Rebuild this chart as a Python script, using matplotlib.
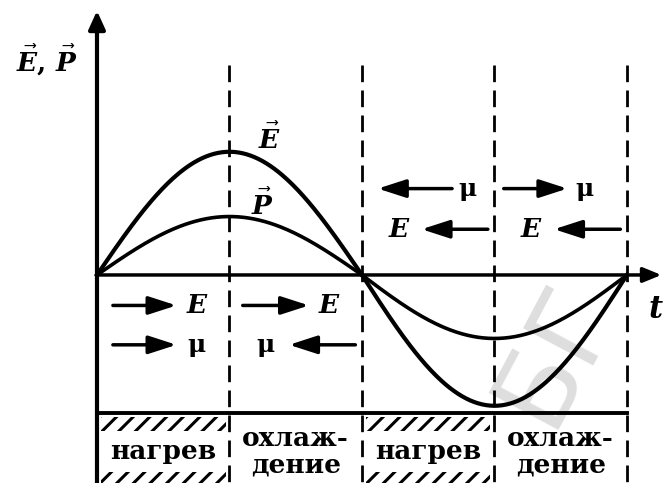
import numpy as np
import matplotlib.pyplot as plt
from matplotlib.patches import Rectangle

plt.rcParams['mathtext.fontset'] = 'custom'
plt.rcParams['mathtext.bf'] = 'DejaVu Serif:italic:bold'
plt.rcParams['mathtext.it'] = 'DejaVu Serif:italic:bold'
plt.rcParams['hatch.linewidth'] = 2.2

# данные: амплитуды (в долях амплитуды E), границы фаз в четвертях периода
E_peak, E_trough = 0.97, -1.03
P_peak, P_trough = 0.46, -0.50
boundaries = [1, 2, 3, 4]
phases = ['нагрев', 'охлаж-\nдение', 'нагрев', 'охлаж-\nдение']
heating = [0, 2]

# стрелки-пояснения: (x начала, x конца, y, x подписи)
arrows_E = [(0.12, 0.6, -0.24, 0.75), (1.1, 1.6, -0.24, 1.75),
            (2.95, 2.45, 0.36, 2.28), (3.95, 3.45, 0.36, 3.27)]
arrows_mu = [(0.12, 0.6, -0.55, 0.75), (1.95, 1.45, -0.55, 1.27),
             (2.68, 2.12, 0.68, 2.8), (3.07, 3.55, 0.68, 3.68)]

t = np.linspace(0, 2, 200)
shape = np.sin(np.pi * t / 2)
t2 = np.linspace(2, 4, 200)
shape2 = -np.sin(np.pi * (t2 - 2) / 2)

fig = plt.figure(figsize=(6.63, 4.83), dpi=100)
ax = fig.add_axes([0, 0, 1, 1])
ax.set_xlim(-0.732, 4.272)
ax.set_ylim(-1.638, 2.165)
ax.axis('off')

# водяной знак
ax.text(3.45, -0.62, 'БГ', fontsize=78, color='#dedede', rotation=62,
        ha='center', va='center', family='DejaVu Sans', zorder=0)

# кривые
ax.plot(t, E_peak * shape, color='black', lw=3)
ax.plot(t2, -E_trough * shape2, color='black', lw=3)
ax.plot(t, P_peak * shape, color='black', lw=2.6)
ax.plot(t2, -P_trough * shape2, color='black', lw=2.6)

# оси
ax.annotate('', xy=(0, 2.08), xytext=(0, -1.64),
            arrowprops=dict(arrowstyle='-|>,head_length=1.1,head_width=0.5',
                            color='black', lw=3, shrinkA=0, shrinkB=0))
ax.annotate('', xy=(4.26, 0), xytext=(0, 0),
            arrowprops=dict(arrowstyle='-|>,head_length=1.1,head_width=0.45',
                            color='black', lw=2.5, shrinkA=0, shrinkB=0))
ax.plot([0, 4], [-1.087, -1.087], color='black', lw=2.8)

# пунктирные границы
for b in boundaries:
    ax.plot([b, b], [1.65, -1.64], color='black', lw=2, ls=(0, (6, 3)))

# штриховка «нагрев»
for i in heating:
    for y0, h in [(-1.225, 0.11), (-1.64, 0.09)]:
        ax.add_patch(Rectangle((i + 0.03, y0), 0.94, h, fill=False,
                               hatch='//', lw=0, color='black'))

for i, ph in enumerate(phases):
    ax.text(i + 0.5, -1.39, ph, ha='center', va='center', fontsize=19,
            family='DejaVu Serif', weight='bold', linespacing=1.05)

# подписи
ax.text(-0.38, 1.69, r'$\vec{\mathbf{E}}$, $\vec{\mathbf{P}}$', fontsize=19,
        ha='center', va='center', family='DejaVu Serif', weight='bold')
ax.text(1.3, 1.07, r'$\vec{\mathbf{E}}$', fontsize=19, ha='center', va='center')
ax.text(1.25, 0.55, r'$\vec{\mathbf{P}}$', fontsize=19, ha='center', va='center')
ax.text(4.22, -0.27, r'$t$', fontsize=22, ha='center', va='center')

head = dict(arrowstyle='-|>,head_length=1.7,head_width=0.55', color='black',
            lw=2.5, shrinkA=0, shrinkB=0)
for x0, x1, y, xl in arrows_E:
    ax.annotate('', xy=(x1, y), xytext=(x0, y), arrowprops=head)
    ax.text(xl, y, 'E', fontsize=19, ha='center', va='center',
            family='DejaVu Serif', weight='bold', style='italic')
for x0, x1, y, xl in arrows_mu:
    ax.annotate('', xy=(x1, y), xytext=(x0, y), arrowprops=head)
    ax.text(xl, y, 'μ', fontsize=18, ha='center', va='center',
            family='DejaVu Serif', weight='bold')

fig.savefig('out.png', dpi=100)
